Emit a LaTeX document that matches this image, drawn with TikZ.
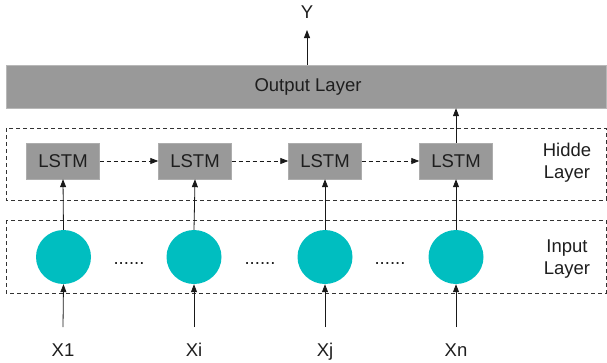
\documentclass[tikz,border=0pt]{standalone}
\usepackage{fontspec}
\setmainfont{Liberation Sans}
\usetikzlibrary{arrows.meta,shapes.geometric}
\definecolor{boxgray}{RGB}{153,153,153}
\definecolor{teal2}{RGB}{0,190,192}
\definecolor{txt}{RGB}{30,30,30}
\begin{document}
\begin{tikzpicture}[x=1pt,y=-1pt,
  every node/.style={font=\fontsize{18.5}{22}\selectfont, text=txt},
  lstmbox/.style={fill=boxgray, draw=boxgray!80!white, minimum width=73pt, minimum height=36pt, inner sep=0pt},
  incirc/.style={ellipse, fill=teal2, minimum width=55pt, minimum height=54pt, inner sep=0pt},
  layerbox/.style={draw=black!80, line width=0.7pt, dash pattern=on 4pt off 3pt},
  arr/.style={-{Triangle[length=8pt,width=6pt]}, line width=0.8pt, draw=black!90},
  darr/.style={arr, dash pattern=on 4pt off 3pt},
  lbl/.style={align=center, inner sep=0pt},
  xlab/.style={anchor=base, inner sep=0pt}
]
\useasboundingbox (0,0) rectangle (607,362);
% layer boxes
\draw[layerbox] (6,128) rectangle (606,200);
\draw[layerbox] (6,220) rectangle (606,293);
% output layer
\node[fill=boxgray, draw=boxgray!70!white, minimum width=600pt, minimum height=43pt, inner sep=0pt] (out) at (306,86.5) {};
\node (outtxt) at (308,86.5) {Output Layer};
\node[inner sep=0pt] (Y) at (307,12) {Y};
\coordinate (ytip) at (307,30);
\draw[arr] (out.north -| Y) -- (ytip);
% LSTMs
\node[lstmbox] (l1) at (63,161) {LSTM};
\node[lstmbox] (l2) at (195,161) {LSTM};
\node[lstmbox] (l3) at (325,161) {LSTM};
\node[lstmbox] (l4) at (456,161) {LSTM};
\draw[darr] (l1) -- (l2);
\draw[darr] (l2) -- (l3);
\draw[darr] (l3) -- (l4);
\draw[arr] (l4.north) -- (l4.north |- out.south);
% inputs
\node[incirc] (c1) at (63.5,257) {};
\node[incirc] (c2) at (194,257) {};
\node[incirc] (c3) at (325,257) {};
\node[incirc] (c4) at (456,257) {};
\node[xlab] (d1) at (129,264) {......};
\node[xlab] (d2) at (260,264) {......};
\node[xlab] (d3) at (390,264) {......};
\draw[arr] (c1.north) -- (l1.south);
\draw[arr] (c2.north) -- (l2.south);
\draw[arr] (c3.north) -- (l3.south);
\draw[arr] (c4.north) -- (l4.south);
% x labels
\node[xlab] (x1) at (63,356) {X1};
\node[xlab] (xi) at (194,356) {Xi};
\node[xlab] (xj) at (325,356) {Xj};
\node[xlab] (xn) at (456,356) {Xn};
\coordinate (s1) at (63,327);
\coordinate (s2) at (194,327);
\coordinate (s3) at (325,327);
\coordinate (s4) at (456,327);
\draw[arr] (s1) -- (c1.south);
\draw[arr] (s2) -- (c2.south);
\draw[arr] (s3) -- (c3.south);
\draw[arr] (s4) -- (c4.south);
% side labels
\node[lbl] (hid) at (567,163) {Hidde\\Layer};
\node[lbl] (inp) at (567,259) {Input\\Layer};
\end{tikzpicture}
\end{document}
